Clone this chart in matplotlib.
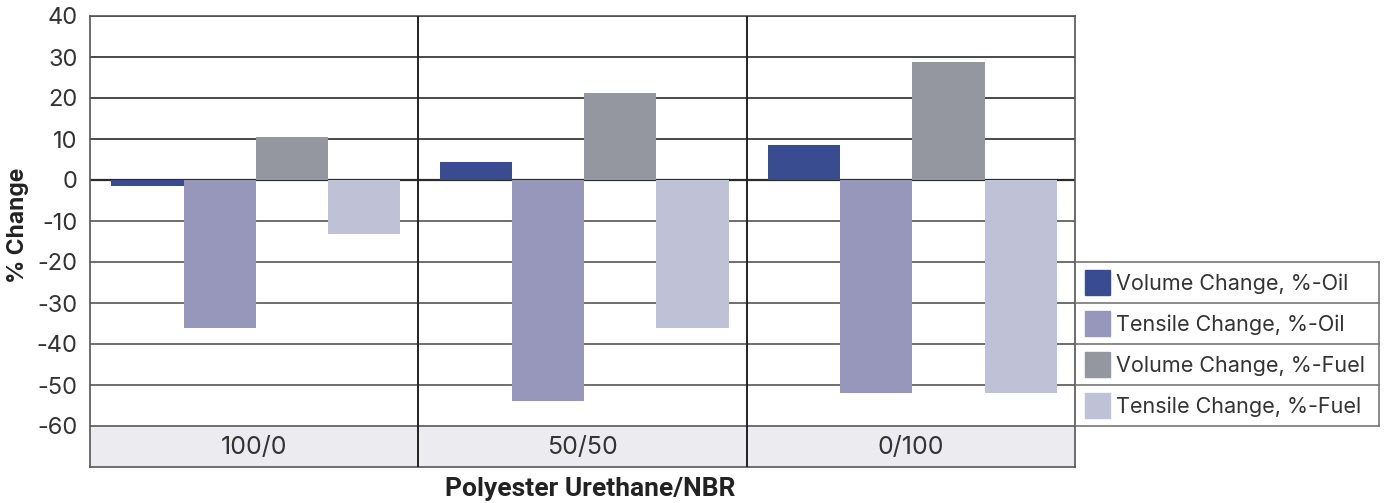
import matplotlib
import matplotlib.pyplot as plt
import numpy as np

plt.rcParams['font.family'] = ['Inter', 'DejaVu Sans']

# data
categories = ['100/0', '50/50', '0/100']
series = ['Volume Change, %-Oil', 'Tensile Change, %-Oil',
          'Volume Change, %-Fuel', 'Tensile Change, %-Fuel']
vol_oil = [-1.5, 4.5, 8.5]
ten_oil = [-36, -54, -52]
vol_fuel = [10.5, 21.2, 28.8]
ten_fuel = [-13.2, -36, -52]
yticks = [40, 30, 20, 10, 0, -10, -20, -30, -40, -50, -60]

colors = ['#394c8f', '#9797bc', '#94979f', '#bfc2d6']
band = '#ebebf0'

fig = plt.figure(figsize=(13.85, 5.03), dpi=100)
ax = fig.add_axes([90 / 1385, 1 - 467 / 503, 985 / 1385, 451 / 503])

ax.set_xlim(0, 3)
ax.set_ylim(-70, 40)

# category band at the bottom
ax.axhspan(-70, -60, color=band, zorder=0)

# gridlines
for y in yticks:
    lw = 1.6 if y == 0 else 1.2
    col = '#2b2b2b' if y >= 0 else '#555555'
    ax.axhline(y, color=col, lw=lw, zorder=1)
for x in [1, 2]:
    ax.axvline(x, color='#222222', lw=1.4, zorder=3)

w = 0.22
x = np.arange(3) + 0.5
vals = [vol_oil, ten_oil, vol_fuel, ten_fuel]
for i, (v, c, lab) in enumerate(zip(vals, colors, series)):
    ax.bar(x + (i - 1.5) * w + 0.005, v, width=w, color=c, zorder=2, label=lab)

for xi, cat in zip(x, categories):
    ax.text(xi, -65.3, cat, ha='center', va='center', fontsize=18, color='#333333')

ax.set_xticks([])
ax.set_yticks(yticks)
ax.set_yticklabels([str(t) for t in yticks], fontsize=17, color='#333333')
ax.tick_params(axis='y', length=0, pad=9)
for s in ax.spines.values():
    s.set_color('#555555')
    s.set_linewidth(1.2)

fig.text(590 / 1385, 1 - 489 / 503, 'Polyester Urethane/NBR',
         ha='center', va='center', fontsize=19, fontweight='bold',
         family=['Roboto', 'DejaVu Sans'], color='#222222')
fig.text(18 / 1385, 1 - 225 / 503, '% Change', rotation=90, ha='center',
         va='center', fontsize=16.5, fontweight='bold', color='#222222')

# legend drawn as a table beside the plot
lax = fig.add_axes([1075 / 1385, 1 - 467 / 503, 305 / 1385, 451 / 503])
lax.set_xlim(0, 305)
lax.set_ylim(-70, 40)
lax.axis('off')
rows = [-20, -30, -40, -50, -60]
for y in rows:
    lax.plot([0, 304], [y, y], color='#777777', lw=1.2)
lax.plot([304, 304], [-60, -20], color='#777777', lw=1.2)
for i, (c, lab) in enumerate(zip(colors, series)):
    yc = -25 - 10 * i
    lax.add_patch(matplotlib.patches.Rectangle((10, yc - 3.0), 25, 6.0,
                                               color=c))
    lax.text(41, yc - 0.3, lab, ha='left', va='center', fontsize=15.5,
             color='#333333')

fig.savefig('out.png', dpi=100)
